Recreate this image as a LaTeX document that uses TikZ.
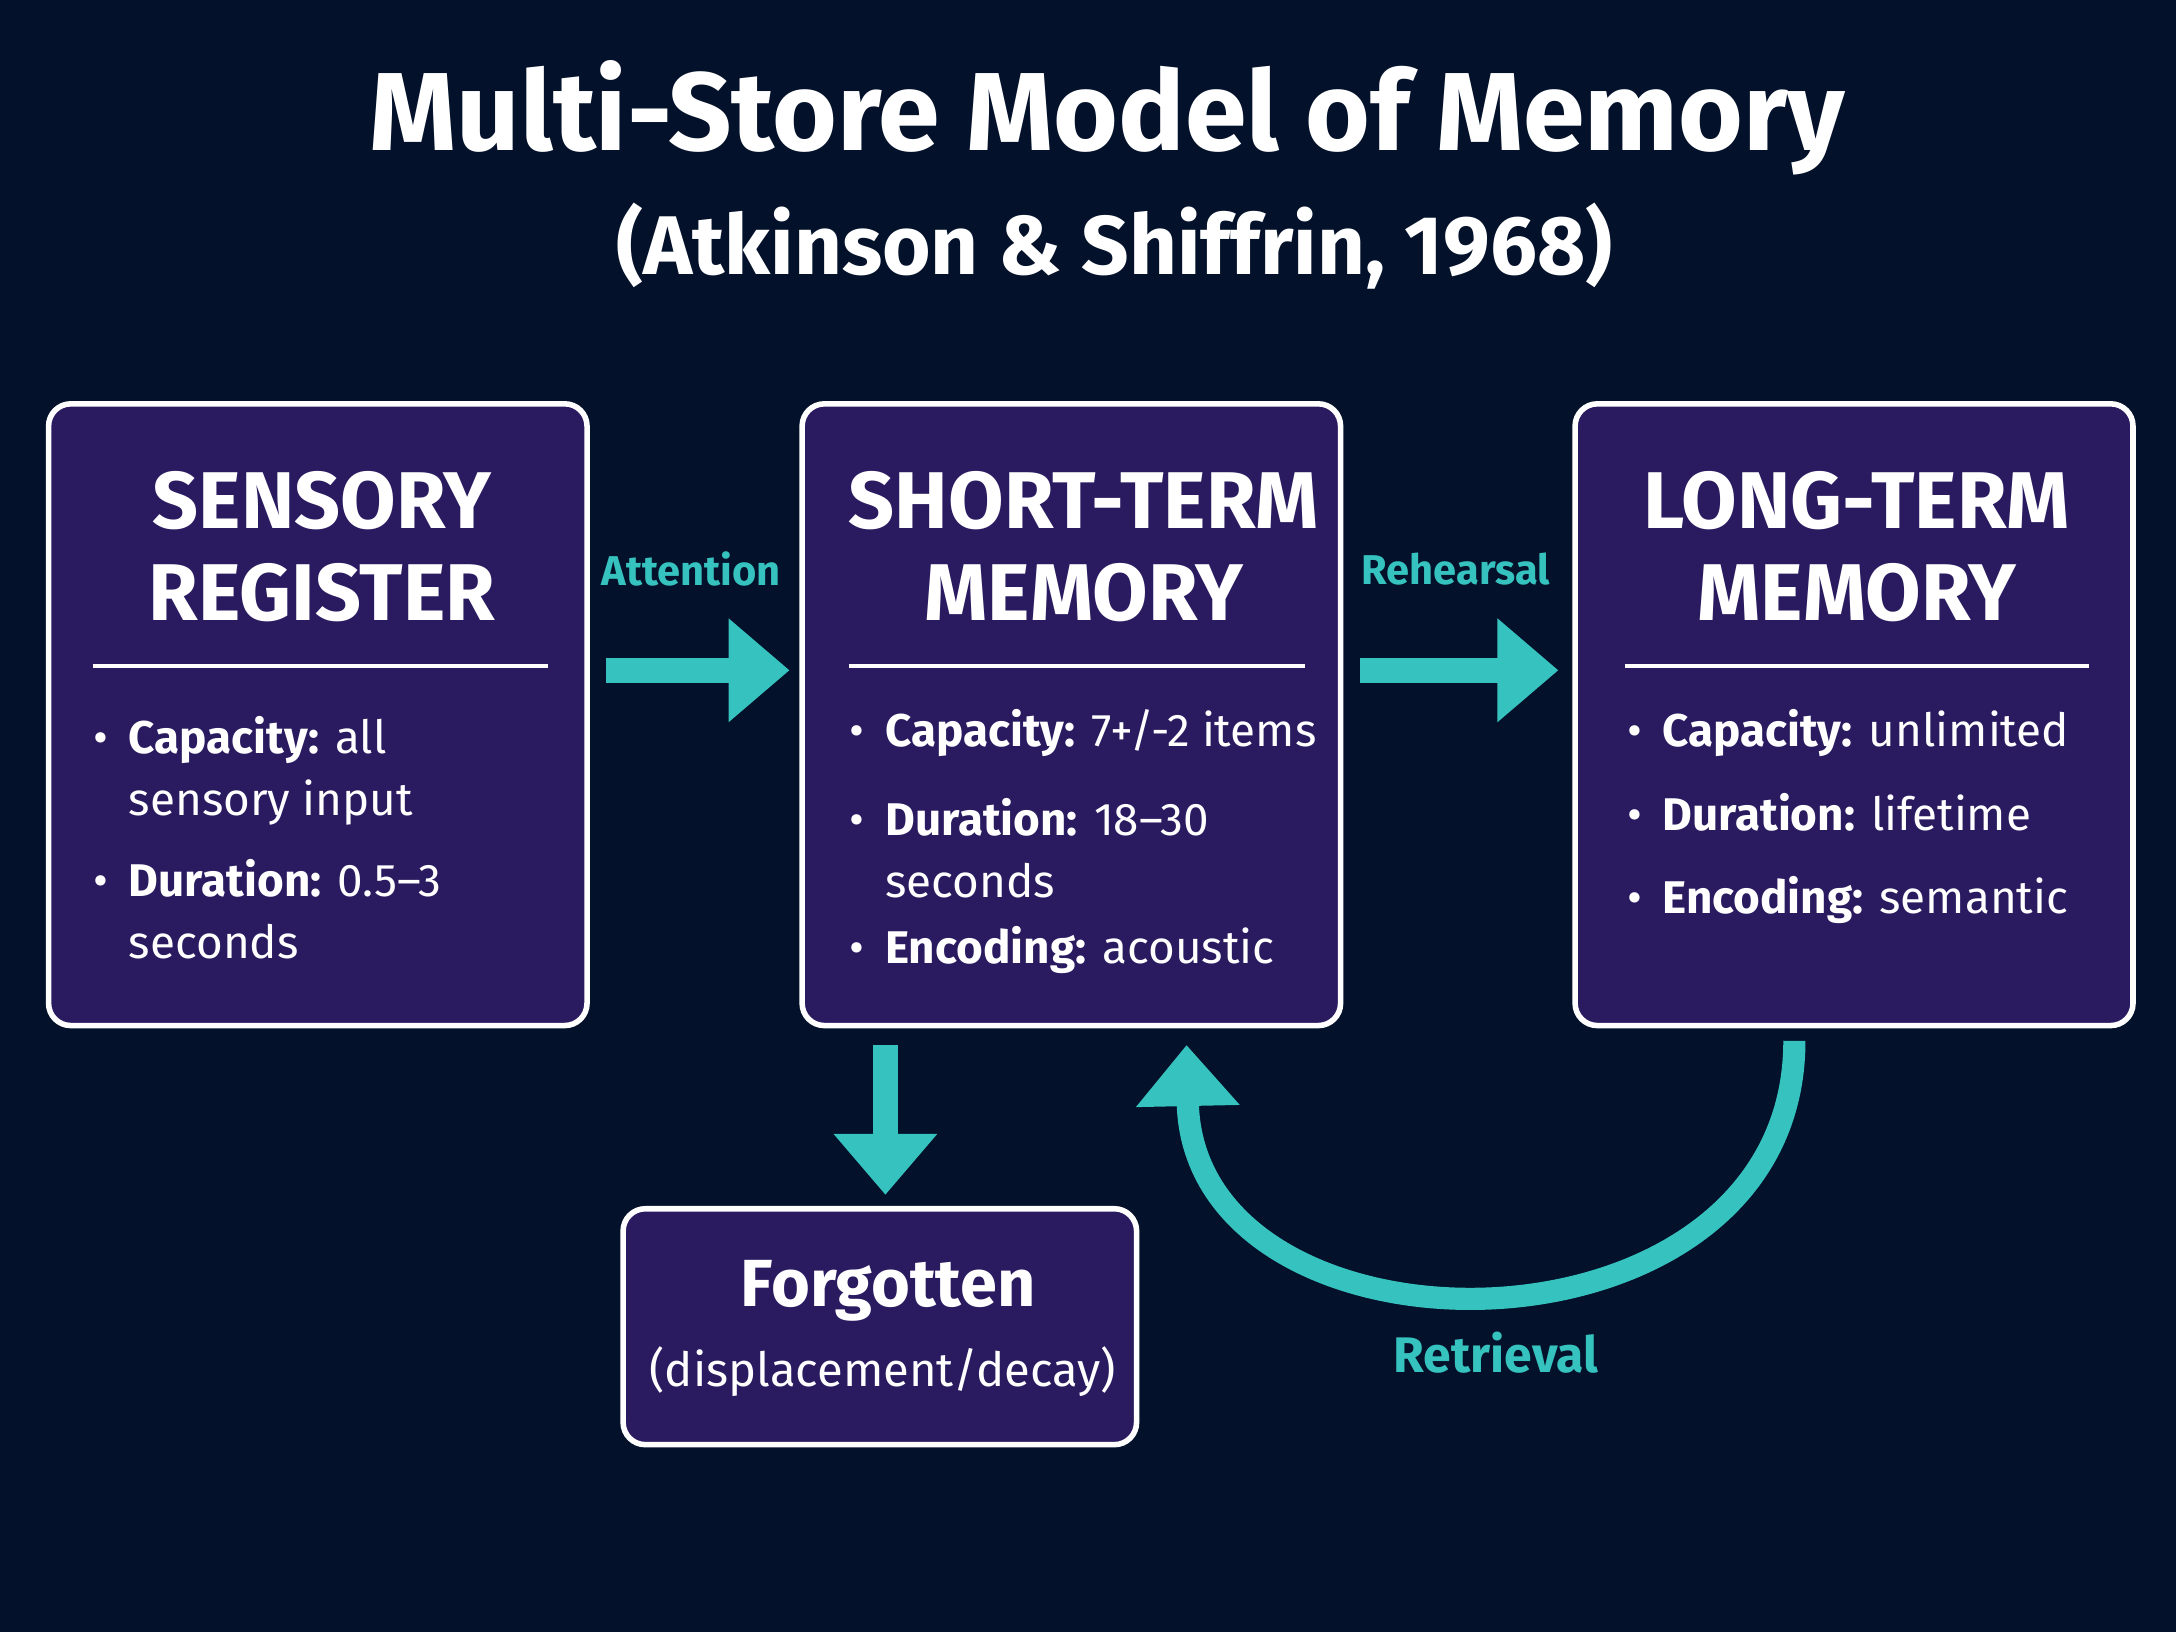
\documentclass[tikz,border=0pt]{standalone}
\usepackage{fontspec}
\setmainfont{Fira Sans}
\usetikzlibrary{arrows.meta}
\definecolor{bg}{HTML}{03112A}
\definecolor{boxc}{HTML}{2A1B60}
\definecolor{teal}{HTML}{36C2BE}
\tikzset{
 box/.style={draw=white,line width=2pt,fill=boxc,rounded corners=8pt,inner sep=0},
 head/.style={text=white,font=\fontsize{29}{33}\selectfont\bfseries,align=center},
 item/.style={text=white,font=\fontsize{16.5}{22.5}\selectfont,anchor=north west,inner sep=0},
 sep/.style={white,line width=1.5pt},
 arr/.style={teal,line width=9pt,-{Triangle[width=36pt,length=22pt]}},
 lab/.style={text=teal,font=\fontsize{15}{18}\selectfont\bfseries},
}
\newcommand{\bitem}[2]{\textbullet\hspace{0.45em}\begin{tabular}[t]{@{}l@{}}#1\\[-0pt]#2\end{tabular}}
\begin{document}
\begin{tikzpicture}[x=0.5pt,y=-0.5pt]
\fill[bg] (0,0) rectangle (1568,1176);
\useasboundingbox (0,0) rectangle (1568,1176);
\node[text=white,font=\fontsize{40}{44}\selectfont\bfseries] (title) at (798,85) {Multi-Store Model of Memory};
\node[text=white,font=\fontsize{30}{34}\selectfont\bfseries] (sub) at (803,177) {(Atkinson \& Shiffrin, 1968)};
% boxes
\node[box,minimum width=194pt,minimum height=224pt] (sr) at (229,515) {};
\node[box,minimum width=194pt,minimum height=224pt] (stm) at (772,515) {};
\node[box,minimum width=201pt,minimum height=224pt] (ltm) at (1336,515) {};
\node[box,minimum width=185pt,minimum height=85pt] (fg) at (634,956) {};
% headers
\node[head] (srh) at (232,394) {SENSORY\\REGISTER};
\node[head] (stmh) at (781,394) {SHORT-TERM\\MEMORY};
\node[head] (ltmh) at (1338,394) {LONG-TERM\\MEMORY};
\draw[sep] (67,480) -- (395,480);
\draw[sep] (612,480) -- (940,480);
\draw[sep] (1171,480) -- (1505,480);
% items
\node[item] (sr1) at (67,511) {\bitem{\textbf{Capacity:} all}{sensory input}};
\node[item] (sr2) at (67,614) {\bitem{\textbf{Duration:} 0.5–3}{seconds}};
\node[item] (st1) at (612,511) {\textbullet\hspace{0.45em}\textbf{Capacity:} 7+/-2 items};
\node[item] (st2) at (612,570) {\bitem{\textbf{Duration:} 18–30}{seconds}};
\node[item] (st3) at (612,667) {\textbullet\hspace{0.45em}\textbf{Encoding:} acoustic};
\node[item] (lt1) at (1172,511) {\textbullet\hspace{0.45em}\textbf{Capacity:} unlimited};
\node[item] (lt2) at (1172,571) {\textbullet\hspace{0.45em}\textbf{Duration:} lifetime};
\node[item] (lt3) at (1172,631) {\textbullet\hspace{0.45em}\textbf{Encoding:} semantic};
% forgotten
\node[text=white,font=\fontsize{24}{28}\selectfont\bfseries] (fgh) at (640,930) {Forgotten};
\node[text=white,font=\fontsize{17}{20}\selectfont] (fgs) at (636,988) {(displacement/decay)};
% arrows
\coordinate (a1) at (437,483); \coordinate (a2) at (569,483);
\coordinate (b1) at (980,483); \coordinate (b2) at (1123,483);
\coordinate (c1) at (638,753); \coordinate (c2) at (638,861);
\coordinate (d1) at (1293,750); \coordinate (d2) at (855,753);
\draw[arr] (a1) -- (a2);
\draw[arr] (b1) -- (b2);
\draw[arr] (c1) -- (c2);
\draw[arr,line width=8pt] (d1) .. controls (1293,990) and (860,990) .. (d2);
\node[lab] (la) at (498,410) {Attention};
\node[lab] (lb) at (1049,410) {Rehearsal};
\node[lab,font=\fontsize{18}{22}\selectfont\bfseries] (lc) at (1078,975) {Retrieval};
\end{tikzpicture}
\end{document}
